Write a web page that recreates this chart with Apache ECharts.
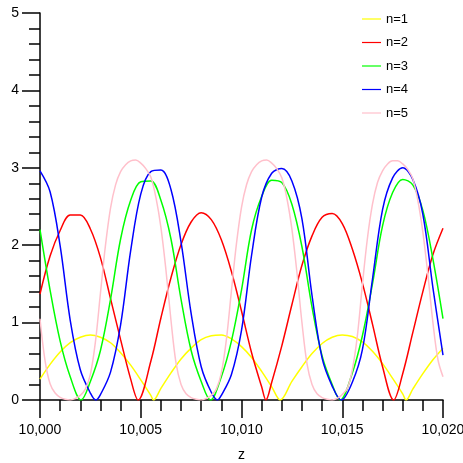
<!DOCTYPE html>
<html>
<head>
<meta charset="utf-8">
<script src="https://cdn.jsdelivr.net/npm/echarts@6/dist/echarts.min.js"></script>
<style>html,body{margin:0;padding:0;background:#fff}#c{width:463px;height:463px}</style>
</head>
<body>
<div id="c"></div>
<script>
const seriesNames = ['n=1', 'n=2', 'n=3', 'n=4', 'n=5'];
const seriesColors = ['#ffff00', '#ff0000', '#00ff00', '#0000ff', '#ffc0cb'];
const xTicks = [10000, 10005, 10010, 10015, 10020];
const yTicks = [0, 1, 2, 3, 4, 5];

const n1 = [[10000,0.27],[10000.5,0.46],[10001,0.62],[10001.5,0.74],[10002,0.81],[10002.5,0.84],[10003,0.81],[10003.5,0.74],[10004,0.61],[10004.5,0.45],[10005,0.26],[10005.5,0.06],[10005.63,0],[10006,0.15],[10006.5,0.35],[10007,0.53],[10007.5,0.67],[10008,0.78],[10008.5,0.83],[10009,0.84],[10009.5,0.79],[10010,0.69],[10010.5,0.55],[10011,0.37],[10011.5,0.17],[10011.92,0],[10012.5,0.24],[10013,0.43],[10013.5,0.6],[10014,0.73],[10014.5,0.81],[10015,0.84],[10015.5,0.82],[10016,0.75],[10016.5,0.63],[10017,0.47],[10017.5,0.28],[10018,0.08],[10018.17,0],[10018.5,0.14],[10019,0.34],[10019.5,0.52],[10020,0.67]];

const n2 = [[10000,1.37],[10000.5,1.86],[10001,2.19],[10001.5,2.39],[10002,2.39],[10002.5,2.21],[10003,1.84],[10003.5,1.31],[10004,0.78],[10004.5,0.27],[10004.87,0],[10005.5,0.5],[10006,1.06],[10006.5,1.58],[10007,2.01],[10007.5,2.30],[10008,2.42],[10008.5,2.33],[10009,2.07],[10009.5,1.66],[10010,1.15],[10010.5,0.61],[10011,0.17],[10011.21,0],[10011.5,0.23],[10012,0.7],[10012.5,1.23],[10013,1.74],[10013.5,2.12],[10014,2.36],[10014.5,2.41],[10015,2.28],[10015.5,1.95],[10016,1.51],[10016.5,0.98],[10017,0.43],[10017.55,0],[10018,0.34],[10018.5,0.87],[10019,1.40],[10019.5,1.88],[10020,2.22]];

const n3 = [[10000,2.2],[10000.5,1.42],[10001,0.76],[10001.5,0.3],[10002.04,0],[10002.5,0.24],[10003,0.64],[10003.5,1.3],[10004,2.08],[10004.5,2.58],[10005,2.82],[10005.5,2.83],[10006,2.58],[10006.5,2.08],[10007,1.3],[10007.5,0.64],[10008,0.24],[10008.46,0],[10009,0.3],[10009.5,0.76],[10010,1.42],[10010.5,2.2],[10011,2.63],[10011.5,2.84],[10012,2.81],[10012.5,2.53],[10013,1.98],[10013.5,1.2],[10014,0.57],[10014.5,0.2],[10014.9,0],[10015.5,0.35],[10016,0.83],[10016.5,1.5],[10017,2.25],[10017.5,2.68],[10018,2.85],[10018.5,2.78],[10019,2.45],[10019.5,1.82],[10020,1.05]];

const n4 = [[10000,2.96],[10000.5,2.69],[10001,1.99],[10001.5,1.03],[10002,0.39],[10002.5,0.09],[10002.77,0],[10003,0.07],[10003.5,0.36],[10004,0.97],[10004.5,1.93],[10005,2.66],[10005.5,2.95],[10006,2.97],[10006.5,2.72],[10007,2.04],[10007.5,1.12],[10008,0.43],[10008.5,0.1],[10008.81,0],[10009,0.06],[10009.5,0.33],[10010,0.9],[10010.5,1.87],[10011,2.62],[10011.5,2.93],[10012,2.99],[10012.5,2.83],[10013,2.34],[10013.5,1.35],[10014,0.54],[10014.5,0.18],[10014.95,0],[10015.5,0.23],[10016,0.65],[10016.5,1.56],[10017,2.46],[10017.5,2.87],[10018,3.0],[10018.5,2.85],[10019,2.4],[10019.5,1.45],[10020,0.58]];

const n5 = [[10000,1.05],[10000.25,0.51],[10000.5,0.21],[10000.75,0.09],[10001,0.035],[10001.25,0.01],[10001.5,0],[10001.75,0.02],[10002,0.06],[10002.25,0.14],[10002.5,0.33],[10002.75,0.75],[10003,1.38],[10003.25,2.0],[10003.5,2.48],[10003.75,2.78],[10004,2.95],[10004.25,3.04],[10004.5,3.09],[10004.75,3.1],[10005,3.06],[10005.25,2.99],[10005.5,2.88],[10005.75,2.62],[10006,2.23],[10006.25,1.68],[10006.5,1.03],[10006.75,0.48],[10007,0.2],[10007.25,0.08],[10007.5,0.03],[10007.75,0.01],[10008,0],[10008.25,0.02],[10008.5,0.06],[10008.75,0.14],[10009,0.35],[10009.25,0.78],[10009.5,1.41],[10009.75,2.02],[10010,2.49],[10010.25,2.78],[10010.5,2.95],[10010.75,3.04],[10011,3.09],[10011.25,3.1],[10011.5,3.06],[10011.75,2.99],[10012,2.87],[10012.25,2.61],[10012.5,2.21],[10012.75,1.65],[10013,1.0],[10013.25,0.47],[10013.5,0.2],[10013.75,0.08],[10014,0.03],[10014.25,0.01],[10014.5,0],[10014.75,0.02],[10015,0.07],[10015.25,0.15],[10015.5,0.39],[10015.75,0.83],[10016,1.49],[10016.25,2.09],[10016.5,2.53],[10016.75,2.81],[10017,2.96],[10017.25,3.05],[10017.5,3.09],[10017.75,3.09],[10018,3.05],[10018.25,2.98],[10018.5,2.86],[10018.75,2.58],[10019,2.17],[10019.25,1.62],[10019.5,1.0],[10019.75,0.52],[10020,0.3]];

const allData = [n1, n2, n3, n4, n5];
const FONT = 'Liberation Sans, Arial, sans-serif';

const chart = echarts.init(document.getElementById('c'), null, {renderer: 'canvas'});
const axisCommon = {
  axisLine: {show: true, lineStyle: {color: '#000', width: 1.5}},
  axisTick: {show: true, inside: false, length: 18, lineStyle: {color: '#000', width: 1.5}},
  minorTick: {show: true, splitNumber: 5, length: 11, lineStyle: {color: '#000', width: 1.5}},
  splitLine: {show: false},
  minorSplitLine: {show: false}
};
chart.setOption({
  animation: false,
  backgroundColor: '#fff',
  grid: {left: 40, right: 20, top: 13, bottom: 63, containLabel: false, outerBoundsMode: 'none'},
  legend: {
    show: true, orient: 'vertical', left: 362, top: 12, padding: 0,
    icon: 'rect', itemWidth: 19, itemHeight: 1.2, itemGap: 9.5,
    textStyle: {fontFamily: FONT, fontSize: 13, color: '#000', lineHeight: 14},
    data: seriesNames
  },
  xAxis: Object.assign({
    type: 'value', min: xTicks[0], max: xTicks[xTicks.length - 1], interval: 5,
    name: 'z', nameLocation: 'middle', nameGap: 48,
    nameTextStyle: {fontFamily: FONT, fontSize: 14, color: '#000'},
    axisLabel: {fontFamily: FONT, fontSize: 14, color: '#000', margin: 23}
  }, axisCommon),
  yAxis: Object.assign({
    type: 'value', min: yTicks[0], max: yTicks[yTicks.length - 1], interval: 1,
    axisLabel: {fontFamily: FONT, fontSize: 14, color: '#000', margin: 21}
  }, axisCommon),
  series: seriesNames.map((nm, i) => ({
    name: nm, type: 'line', data: allData[i], showSymbol: false, smooth: 0.35,
    color: seriesColors[i],
    lineStyle: {color: seriesColors[i], width: 1.5},
    clip: true
  }))
});
</script>
</body>
</html>
